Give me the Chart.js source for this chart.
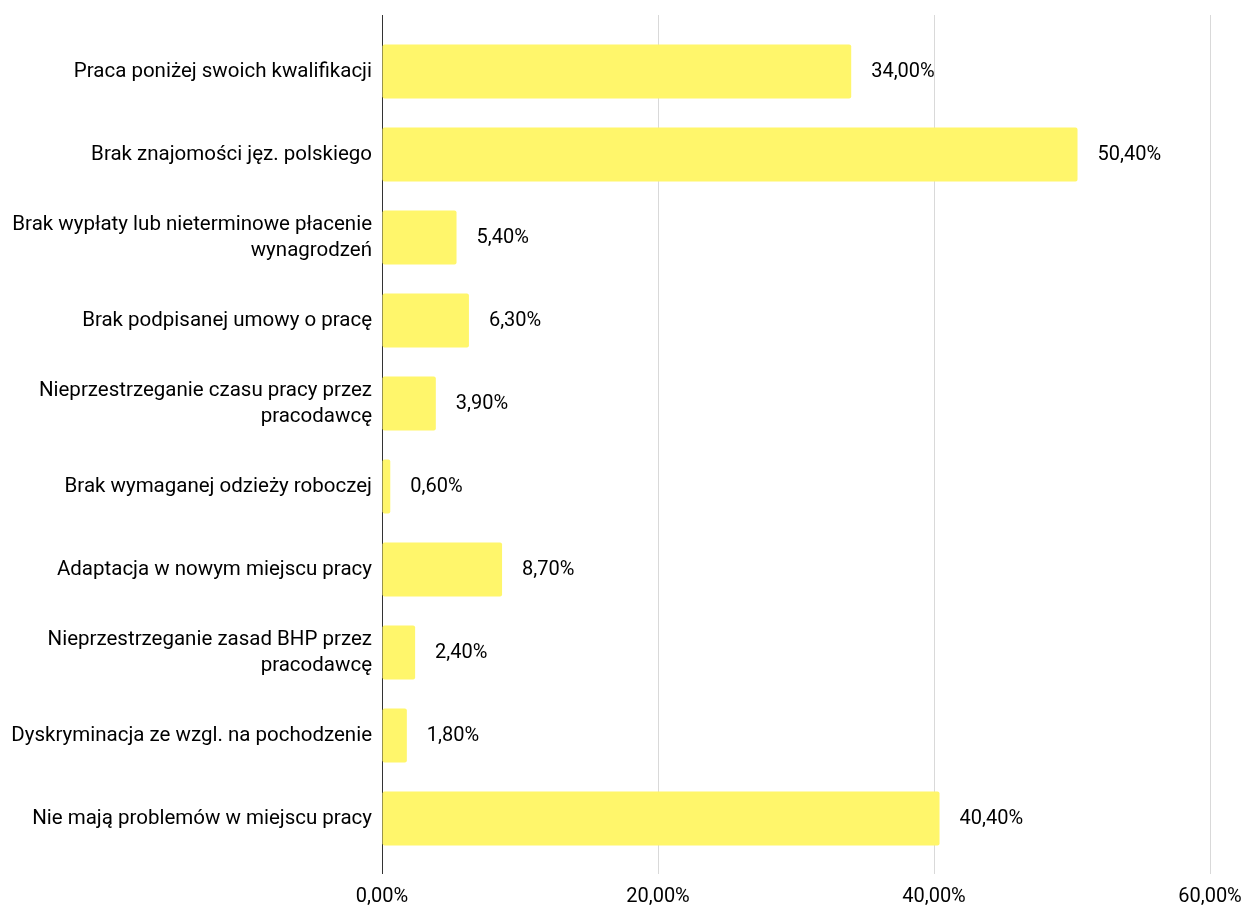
<!DOCTYPE html>
<html>
<head>
<meta charset="utf-8">
<script src="https://cdn.jsdelivr.net/npm/chart.js@4/dist/chart.umd.min.js"></script>
<style>
    html, body { margin: 0; padding: 0; background: #fff; }
    #wrap { width: 1245px; height: 906px; }
</style>
</head>
<body>
<div id="wrap"><canvas id="chart"></canvas></div>
<script>
// problemy w miejscu pracy - dane
const categories = [
    'Praca poniżej swoich kwalifikacji',
    'Brak znajomości jęz. polskiego',
    ['Brak wypłaty lub nieterminowe płacenie', 'wynagrodzeń'],
    'Brak podpisanej umowy o pracę',
    ['Nieprzestrzeganie czasu pracy przez', 'pracodawcę'],
    'Brak wymaganej odzieży roboczej',
    'Adaptacja w nowym miejscu pracy',
    ['Nieprzestrzeganie zasad BHP przez', 'pracodawcę'],
    'Dyskryminacja ze wzgl. na pochodzenie',
    'Nie mają problemów w miejscu pracy'
]
const values = [34.0, 50.4, 5.4, 6.3, 3.9, 0.6, 8.7, 2.4, 1.8, 40.4]
const xTicks = [0, 20, 40, 60]

const fmt = (v) => v.toFixed(2).replace('.', ',') + '%'

Chart.defaults.font.family = 'Roboto'
Chart.defaults.font.size = 20
Chart.defaults.color = '#000'

const gridColor = (ctx) => ctx.tick && ctx.tick.value === 0 ? '#333333' : '#d9d9d9'

// etykiety z wartościami obok słupków
const valueLabels = {
    id: 'valueLabels',
    afterDatasetsDraw(chart) {
        const ctx = chart.ctx
        const meta = chart.getDatasetMeta(0)
        ctx.save()
        ctx.font = '20px Roboto'
        ctx.fillStyle = '#000'
        ctx.textAlign = 'left'
        ctx.textBaseline = 'middle'
        meta.data.forEach((bar, i) => {
            ctx.fillText(fmt(values[i]), bar.x + 20, bar.y)
        })
        ctx.restore()
    }
}

new Chart(document.getElementById('chart'), {
    type: 'bar',
    data: {
        labels: categories,
        datasets: [{
            data: values,
            backgroundColor: '#fff66b',
            borderWidth: 0,
            borderRadius: 2,
            borderSkipped: false,
            barPercentage: 0.65,
            categoryPercentage: 1
        }]
    },
    options: {
        indexAxis: 'y',
        responsive: true,
        maintainAspectRatio: false,
        animation: false,
        layout: {
            padding: { top: 15, right: 0, bottom: 0, left: 0 }
        },
        plugins: {
            legend: { display: false },
            tooltip: { enabled: false }
        },
        scales: {
            x: {
                min: 0,
                max: 60,
                afterBuildTicks: (scale) => { scale.ticks = xTicks.map(v => ({ value: v })) },
                afterFit: (scale) => {
                    scale.paddingRight = 35
                    scale.height = 46
                },
                border: { display: false },
                grid: { color: gridColor, tickLength: 14, lineWidth: 1 },
                ticks: {
                    padding: 11,
                    callback: (v) => fmt(v)
                }
            },
            xTop: {
                axis: 'x',
                position: 'top',
                min: 0,
                max: 60,
                afterBuildTicks: (scale) => { scale.ticks = xTicks.map(v => ({ value: v })) },
                afterFit: (scale) => { scale.height = 15 },
                border: { display: false },
                grid: { color: gridColor, tickLength: 15, drawOnChartArea: false },
                ticks: { display: false }
            },
            y: {
                border: { display: false },
                grid: { display: false, drawTicks: false },
                afterFit: (scale) => {
                    scale.width = 382
                    scale.paddingTop = 0
                    scale.paddingBottom = 0
                },
                ticks: {
                    padding: 10,
                    font: { size: 20.5, lineHeight: 1.27 }
                }
            }
        }
    },
    plugins: [valueLabels]
})
</script>
</body>
</html>
